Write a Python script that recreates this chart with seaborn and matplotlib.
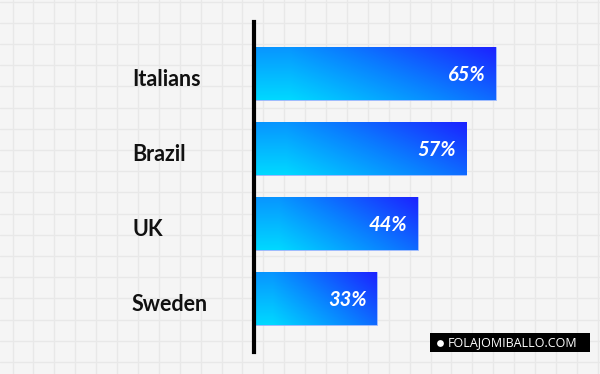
import numpy as np
import pandas as pd
import seaborn as sns
import matplotlib.pyplot as plt
from matplotlib.colors import LinearSegmentedColormap
from matplotlib.patches import Rectangle
from matplotlib.transforms import ScaledTranslation

countries = ['Italians', 'Brazil', 'UK', 'Sweden']
shares = [65, 57, 44, 33]
value_labels = ['65%', '57%', '44%', '33%']
watermark = 'FOLAJOMIBALLO.COM'

df = pd.DataFrame({'country': countries, 'share': shares})

sns.set_theme(style='white')
plt.rcParams['font.family'] = ['Lato', 'DejaVu Sans']

W, H = 600, 374
fig = plt.figure(figsize=(6, 3.74), dpi=100)
fig.patch.set_facecolor('#f5f5f5')

# graph paper background
bg = fig.add_axes([0, 0, 1, 1], zorder=0)
bg.set_xlim(0, W)
bg.set_ylim(H, 0)
bg.set_facecolor('#f5f5f5')
bg.set_xticks(np.arange(12.5, W, 20.9))
bg.set_yticks(np.arange(1.5, H, 21.2))
bg.grid(True, color='#e8e8e8', linewidth=1.0)
bg.tick_params(length=0, labelbottom=False, labelleft=False)
for s in bg.spines.values():
    s.set_visible(False)

# main bar axes
left, right = 254, 590
top, bottom = 22, 352
ax = fig.add_axes([left / W, (H - bottom) / H, (right - left) / W, (bottom - top) / H], zorder=1)
ax.patch.set_alpha(0)

sns.barplot(data=df, x='share', y='country', orient='h', width=0.7,
            color='#1060ff', ax=ax)
ax.set_xlim(0, (right - left) / 3.72)
ax.set_ylim(3.71, -0.687)

cmap = LinearSegmentedColormap.from_list('blues', ['#00d8ff', '#0a80ff', '#1c22ff'])
yy, xx = np.mgrid[0:1:60j, 0:1:240j]
grad = 0.62 * (xx - 0.15).clip(0) / 0.85 + 0.38 * (1 - yy)
grad = grad.clip(0, 1)

for p, lab in zip(ax.patches, value_labels):
    x0, y0 = p.get_x(), p.get_y()
    w, h = p.get_width(), p.get_height()
    p.set_facecolor('none')
    p.set_edgecolor('#8fb0ff')
    p.set_linewidth(0.6)
    im = ax.imshow(grad, cmap=cmap, extent=[x0, x0 + w, y0 + h, y0],
                   aspect='auto', origin='upper', zorder=2, vmin=0, vmax=1)
    im.set_clip_path(p)
    ax.text(x0 + w - 10 / 3.72, y0 + h / 2 + 0.02, lab, color='white', fontsize=14.5,
            fontweight='bold', fontstyle='italic', ha='right', va='center', zorder=3)

ax.set_xlabel('')
ax.set_ylabel('')
ax.set_xticks([])
for s in ['top', 'right', 'bottom']:
    ax.spines[s].set_visible(False)
ax.spines['left'].set_color('black')
ax.spines['left'].set_linewidth(3)
ax.spines['left'].set_zorder(4)
ax.tick_params(axis='y', length=0, pad=(left - 132) * 0.72)
shift = ScaledTranslation(0, -4 / 100, fig.dpi_scale_trans)
for t in ax.get_yticklabels():
    t.set_ha('left')
    t.set_fontsize(15.5)
    t.set_fontweight('bold')
    t.set_color('#111111')
    t.set_transform(t.get_transform() + shift)

# watermark badge
bg.add_patch(Rectangle((430, 333), 160, 19, facecolor='black', edgecolor='none', zorder=5))
bg.scatter([440], [342.5], s=24, color='white', zorder=6, linewidths=0)
bg.text(448, 343, watermark, color='white', fontsize=9, ha='left', va='center',
        family=['Open Sans', 'DejaVu Sans'], zorder=6)

fig.savefig('out.png', dpi=100, facecolor=fig.get_facecolor())
